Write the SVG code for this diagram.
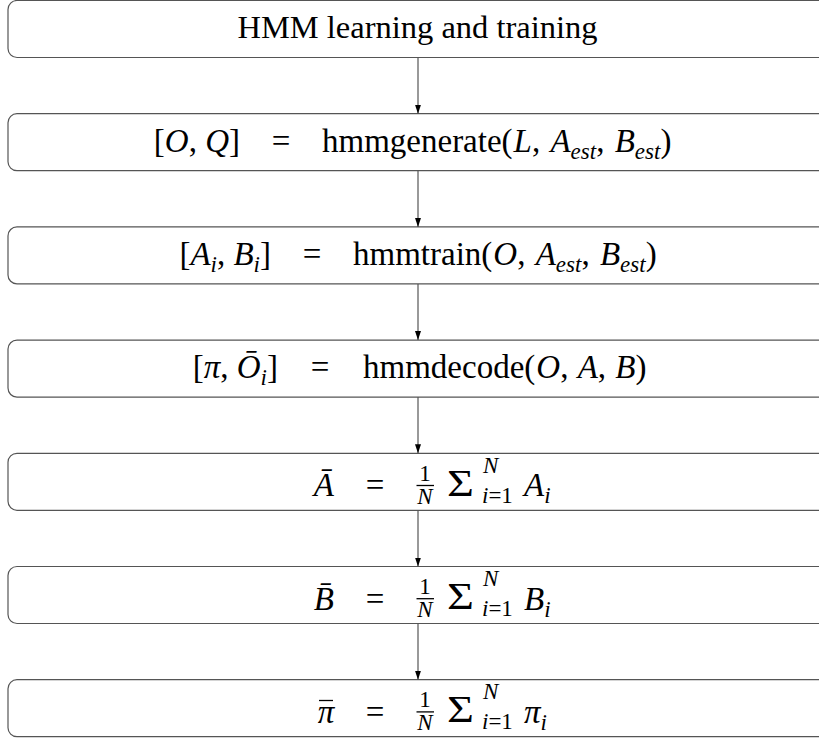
<svg xmlns="http://www.w3.org/2000/svg" width="819" height="742" viewBox="0 0 819 742">
<style>
.box{fill:#fff;stroke:#555;stroke-width:1.2}
.t{font-family:"Liberation Serif","Times New Roman",serif;font-size:33px;fill:#000}
.i{font-style:italic}
.s{font-size:23px;font-style:italic}
.sr{font-size:23px}
.sum{font-size:37px}
.conn{stroke:#555;stroke-width:1.2;fill:none}
.bar{stroke:#000;stroke-width:1.3}
</style>
<defs>
<marker id="ah" markerUnits="userSpaceOnUse" markerWidth="10" markerHeight="7" refX="9" refY="3" orient="auto">
<path d="M0,0 L9,3 L0,6 z" fill="#000"/>
</marker>
</defs>
<g id="node1">
<rect class="box" x="8" y="0.5" width="830" height="57" rx="9"/>
<text class="t" x="417.5" y="38" text-anchor="middle" style="font-size:32.5px">HMM learning and training</text>
</g>
<g id="node2">
<rect class="box" x="8" y="113.7" width="830" height="57" rx="9"/>
<text class="t" x="240" y="151.7" text-anchor="end">[<tspan class="i">O</tspan>, <tspan class="i">Q</tspan>]</text>
<text class="t" x="281" y="151.7" text-anchor="middle">=</text>
<text class="t" x="322" y="151.7">hmmgenerate(<tspan class="i" dx="1">L</tspan>, <tspan class="i" dx="2">A</tspan><tspan class="s" dy="7">est</tspan><tspan dy="-7">, </tspan><tspan class="i" dx="2">B</tspan><tspan class="s" dy="7">est</tspan><tspan dy="-7">)</tspan></text>
</g>
<g id="node3">
<rect class="box" x="8" y="226.9" width="830" height="57" rx="9"/>
<text class="t" x="271" y="264.9" text-anchor="end">[<tspan class="i">A</tspan><tspan class="s" dy="7">i</tspan><tspan dy="-7">, </tspan><tspan class="i">B</tspan><tspan class="s" dy="7">i</tspan><tspan dy="-7">]</tspan></text>
<text class="t" x="312" y="264.9" text-anchor="middle">=</text>
<text class="t" x="353" y="264.9">hmmtrain(<tspan class="i" dx="1">O</tspan>, <tspan class="i" dx="2">A</tspan><tspan class="s" dy="7">est</tspan><tspan dy="-7">, </tspan><tspan class="i" dx="2">B</tspan><tspan class="s" dy="7">est</tspan><tspan dy="-7">)</tspan></text>
</g>
<g id="node4">
<rect class="box" x="8" y="340.1" width="830" height="57" rx="9"/>
<text class="t" x="278" y="378.1" text-anchor="end">[<tspan class="i">π</tspan>, <tspan class="i">Ō</tspan><tspan class="s" dy="7">i</tspan><tspan dy="-7">]</tspan></text>
<text class="t" x="320" y="378.1" text-anchor="middle">=</text>
<text class="t" x="363" y="378.1">hmmdecode(<tspan class="i" dx="1">O</tspan>, <tspan class="i" dx="1">A</tspan>, <tspan class="i" dx="1">B</tspan>)</text>
</g>
<g id="node5">
<rect class="box" x="8" y="453.3" width="830" height="57" rx="9"/>
<text class="t i" x="334" y="496.3" text-anchor="end">Ā</text>
<text class="t" x="375" y="496.3" text-anchor="middle">=</text>
<text class="t sr" x="425" y="480.5" text-anchor="middle">1</text>
<line class="bar" x1="416.5" y1="485.5" x2="434" y2="485.5"/>
<text class="t s" x="425" y="504" text-anchor="middle">N</text>
<text class="t sum" transform="translate(447,495.5) scale(1.25,1)">Σ</text>
<text class="t s" x="483" y="472.5">N</text>
<text class="t sr" x="482" y="503"><tspan class="i">i</tspan>=1</text>
<text class="t" x="524" y="496.3"><tspan class="i">A</tspan><tspan class="s" dy="7">i</tspan></text>
</g>
<g id="node6">
<rect class="box" x="8" y="566.5" width="830" height="57" rx="9"/>
<text class="t i" x="334" y="609.5" text-anchor="end">B̄</text>
<text class="t" x="375" y="609.5" text-anchor="middle">=</text>
<text class="t sr" x="425" y="593.7" text-anchor="middle">1</text>
<line class="bar" x1="416.5" y1="598.7" x2="434" y2="598.7"/>
<text class="t s" x="425" y="617.2" text-anchor="middle">N</text>
<text class="t sum" transform="translate(447,608.7) scale(1.25,1)">Σ</text>
<text class="t s" x="483" y="585.7">N</text>
<text class="t sr" x="482" y="616.2"><tspan class="i">i</tspan>=1</text>
<text class="t" x="524" y="609.5"><tspan class="i">B</tspan><tspan class="s" dy="7">i</tspan></text>
</g>
<g id="node7">
<rect class="box" x="8" y="679.7" width="830" height="57" rx="9"/>
<text class="t i" x="326" y="722.7" text-anchor="middle">π</text>
<line class="bar" x1="319" y1="700.5" x2="333" y2="700.5"/>
<text class="t" x="375" y="722.7" text-anchor="middle">=</text>
<text class="t sr" x="425" y="706.9" text-anchor="middle">1</text>
<line class="bar" x1="416.5" y1="711.9" x2="434" y2="711.9"/>
<text class="t s" x="425" y="730.4" text-anchor="middle">N</text>
<text class="t sum" transform="translate(447,721.9) scale(1.25,1)">Σ</text>
<text class="t s" x="483" y="698.9">N</text>
<text class="t sr" x="482" y="729.4"><tspan class="i">i</tspan>=1</text>
<text class="t" x="524" y="722.7"><tspan class="i">π</tspan><tspan class="s" dy="7">i</tspan></text>
</g>
<g id="connectors">
<line class="conn" x1="418" y1="57.5" x2="418" y2="113.7" marker-end="url(#ah)"/>
<line class="conn" x1="418" y1="170.7" x2="418" y2="226.9" marker-end="url(#ah)"/>
<line class="conn" x1="418" y1="283.9" x2="418" y2="340.1" marker-end="url(#ah)"/>
<line class="conn" x1="418" y1="397.1" x2="418" y2="453.3" marker-end="url(#ah)"/>
<line class="conn" x1="418" y1="510.3" x2="418" y2="566.5" marker-end="url(#ah)"/>
<line class="conn" x1="418" y1="623.5" x2="418" y2="679.7" marker-end="url(#ah)"/>
</g>
</svg>
